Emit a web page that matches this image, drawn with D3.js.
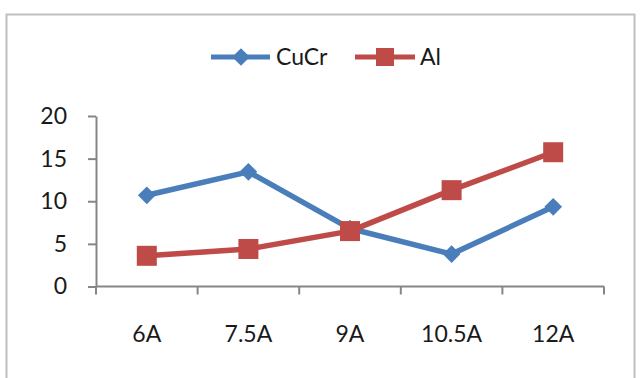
<!DOCTYPE html>
<html>
<head>
<meta charset="utf-8">
<script src="https://cdn.jsdelivr.net/npm/d3@7"></script>
<style>
  body { margin: 0; background: #fff; }
  text { font-family: Lato, "Open Sans", sans-serif; fill: #1a1a1a; }
</style>
</head>
<body>
<div id="chart"></div>
<script>
var categories = ["6A", "7.5A", "9A", "10.5A", "12A"];
var cucr = [10.7, 13.45, 6.8, 3.8, 9.35];
var al = [3.6, 4.4, 6.5, 11.3, 15.75];
var yTicks = [0, 5, 10, 15, 20];
var seriesNames = ["CuCr", "Al"];

var width = 641, height = 378;
var blue = "#4a7ebb", red = "#be4b48";

var svg = d3.select("#chart").append("svg")
    .attr("width", width).attr("height", height);

// chart frame (bottom edge runs off the picture)
svg.append("rect")
    .attr("x", 6.5).attr("y", 14.5)
    .attr("width", 628).attr("height", 420)
    .attr("fill", "#fff")
    .attr("stroke", "#bfbfbf")
    .attr("stroke-width", 2);

var x = d3.scaleBand().domain(categories).range([96, 604]).padding(0);
var y = d3.scaleLinear().domain([0, 20]).range([286.5, 116]);

// y axis
var yAxis = svg.append("g")
    .attr("transform", "translate(96,0)")
    .call(d3.axisLeft(y).tickValues(yTicks).tickSizeInner(8).tickSizeOuter(0).tickPadding(21));
yAxis.selectAll("path, line").attr("stroke", "#868686").attr("stroke-width", 2);
yAxis.selectAll("text").style("font-size", "23px").attr("fill", "#1a1a1a");

// x axis line + ticks at band edges
var xAxis = svg.append("g");
xAxis.append("line")
    .attr("x1", x.range()[0]).attr("x2", x.range()[1])
    .attr("y1", y(0)).attr("y2", y(0))
    .attr("stroke", "#868686").attr("stroke-width", 2);
var edges = categories.map(function(c) { return x(c); }).concat([x(categories[categories.length - 1]) + x.bandwidth()]);
xAxis.selectAll(".xtick").data(edges).enter().append("line")
    .attr("x1", function(d) { return d; }).attr("x2", function(d) { return d; })
    .attr("y1", y(0)).attr("y2", y(0) + 8)
    .attr("stroke", "#868686").attr("stroke-width", 2);
xAxis.selectAll(".xlab").data(categories).enter().append("text")
    .attr("x", function(d) { return x(d) + x.bandwidth() / 2; })
    .attr("y", 342)
    .attr("text-anchor", "middle")
    .style("font-size", "23px")
    .text(function(d) { return d; });

var line = d3.line()
    .x(function(d, i) { return x(categories[i]) + x.bandwidth() / 2; })
    .y(function(d) { return y(d); });

var diamond = d3.symbol().type(d3.symbolDiamond2).size(200);

// CuCr
svg.append("path").datum(cucr)
    .attr("d", line).attr("fill", "none")
    .attr("stroke", blue).attr("stroke-width", 5.5).attr("stroke-linejoin", "round");
svg.selectAll(".dcu").data(cucr).enter().append("path")
    .attr("d", diamond)
    .attr("transform", function(d, i) {
        return "translate(" + (x(categories[i]) + x.bandwidth() / 2) + "," + y(d) + ")";
    })
    .attr("fill", blue);

// Al
svg.append("path").datum(al)
    .attr("d", line).attr("fill", "none")
    .attr("stroke", red).attr("stroke-width", 5.5).attr("stroke-linejoin", "round");
svg.selectAll(".sal").data(al).enter().append("rect")
    .attr("x", function(d, i) { return x(categories[i]) + x.bandwidth() / 2 - 10; })
    .attr("y", function(d) { return y(d) - 10; })
    .attr("width", 20).attr("height", 20)
    .attr("fill", red);

// legend
var legend = svg.append("g");
var lg1 = legend.append("g").attr("transform", "translate(211,57)");
lg1.append("line").attr("x1", 0).attr("x2", 59).attr("stroke", blue).attr("stroke-width", 5);
lg1.append("path").attr("d", diamond).attr("transform", "translate(30,0)").attr("fill", blue);
lg1.append("text").attr("x", 65).attr("y", 8).style("font-size", "23px").text(seriesNames[0]);

var lg2 = legend.append("g").attr("transform", "translate(355,57)");
lg2.append("line").attr("x1", 0).attr("x2", 60).attr("stroke", red).attr("stroke-width", 5);
lg2.append("rect").attr("x", 21).attr("y", -9).attr("width", 18).attr("height", 18).attr("fill", red);
lg2.append("text").attr("x", 65).attr("y", 8).style("font-size", "23px").text(seriesNames[1]);
</script>
</body>
</html>
